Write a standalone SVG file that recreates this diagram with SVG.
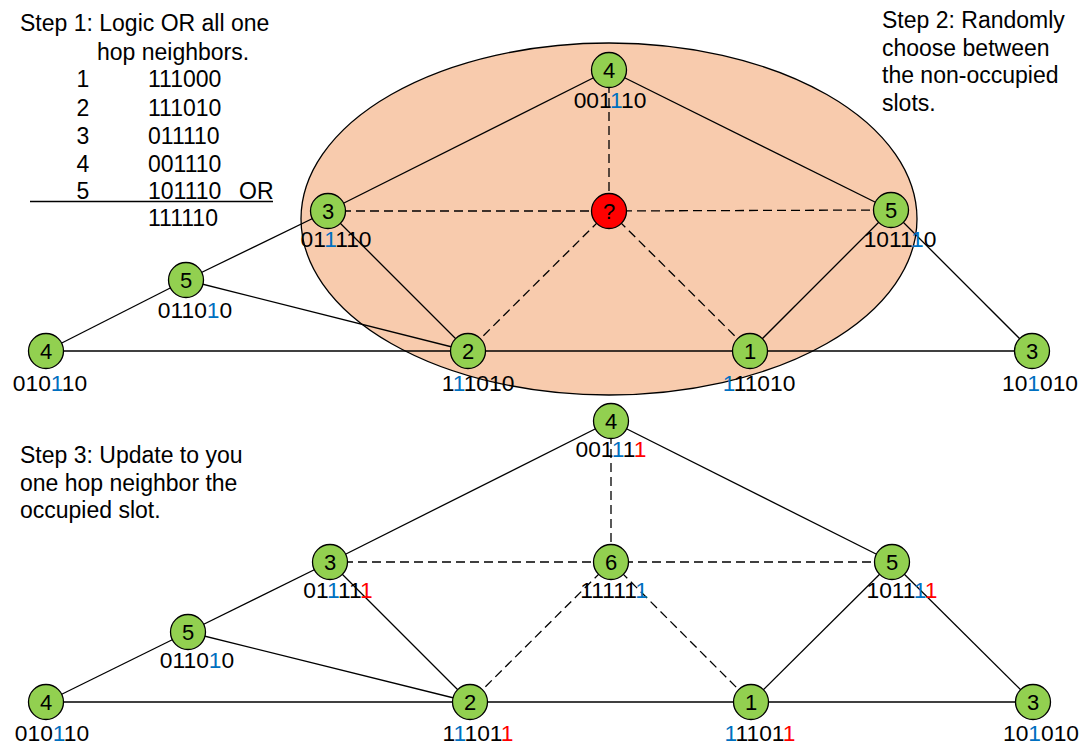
<svg xmlns="http://www.w3.org/2000/svg" width="1090" height="747" viewBox="0 0 1090 747">
<style>
.t{font-family:"Liberation Sans",Arial,sans-serif;font-size:23px;fill:#000}
.lbl{font-family:"Liberation Sans",Arial,sans-serif;font-size:22.8px;fill:#000;text-anchor:middle}
.num{font-family:"Liberation Sans",Arial,sans-serif;font-size:22px;fill:#000;text-anchor:middle}
.n{fill:#92D050;stroke:#000;stroke-width:1.3}
.r{fill:#FF0000;stroke:#000;stroke-width:1.3}
.e{stroke:#000;stroke-width:1.3;fill:none}
.d{stroke:#000;stroke-width:1.3;fill:none;stroke-dasharray:9,5}
.b{fill:#0070C0}
.x{fill:#FF0000}
</style>
<rect width="1090" height="747" fill="#fff"/>
<g id="texts">
<text class="t" x="20" y="31">Step 1: Logic OR all one</text>
<text class="t" x="97" y="60">hop neighbors.</text>
<text class="t" x="83" y="87" text-anchor="middle">1</text><text class="t" x="148" y="87">111000</text>
<text class="t" x="83" y="116" text-anchor="middle">2</text><text class="t" x="148" y="116">111010</text>
<text class="t" x="83" y="144" text-anchor="middle">3</text><text class="t" x="148" y="144">011110</text>
<text class="t" x="83" y="172" text-anchor="middle">4</text><text class="t" x="148" y="172">001110</text>
<text class="t" x="83" y="199" text-anchor="middle">5</text><text class="t" x="148" y="199">101110</text><text class="t" x="239" y="199">OR</text>
<line x1="30" y1="201.5" x2="273" y2="201.5" stroke="#000" stroke-width="1.3"/>
<text class="t" x="148" y="226">111110</text>
<text class="t" x="882" y="28">Step 2: Randomly</text>
<text class="t" x="882" y="56">choose between</text>
<text class="t" x="882" y="83">the non-occupied</text>
<text class="t" x="882" y="111">slots.</text>
<text class="t" x="20" y="463">Step 3: Update to you</text>
<text class="t" x="20" y="491">one hop neighbor the</text>
<text class="t" x="20" y="518">occupied slot.</text>
</g>
<g id="region">
<ellipse cx="609" cy="219" rx="308" ry="176" fill="#F8CBAD" stroke="#000" stroke-width="1.3"/>
</g>
<g id="connectors">
<line class="e" x1="609" y1="70" x2="328" y2="211"/>
<line class="e" x1="609" y1="70" x2="891" y2="210"/>
<line class="e" x1="328" y1="211" x2="468" y2="351"/>
<line class="e" x1="891" y1="210" x2="750" y2="351"/>
<line class="e" x1="891" y1="210" x2="1032" y2="351"/>
<line class="e" x1="328" y1="211" x2="186" y2="280"/>
<line class="e" x1="186" y1="280" x2="46" y2="351"/>
<line class="e" x1="186" y1="280" x2="468" y2="351"/>
<line class="e" x1="46" y1="351" x2="1032" y2="351"/>
<line class="d" x1="609" y1="70" x2="609" y2="211"/>
<line class="d" x1="328" y1="211" x2="609" y2="211"/>
<line class="d" x1="609" y1="211" x2="891" y2="210"/>
<line class="d" x1="609" y1="211" x2="468" y2="351"/>
<line class="d" x1="609" y1="211" x2="750" y2="351"/>
<line class="e" x1="611" y1="421" x2="330" y2="562"/>
<line class="e" x1="611" y1="421" x2="892" y2="562"/>
<line class="e" x1="330" y1="562" x2="188" y2="632"/>
<line class="e" x1="330" y1="562" x2="470" y2="702"/>
<line class="e" x1="188" y1="632" x2="46" y2="702"/>
<line class="e" x1="188" y1="632" x2="470" y2="702"/>
<line class="e" x1="892" y1="562" x2="751" y2="702"/>
<line class="e" x1="892" y1="562" x2="1033" y2="702"/>
<line class="e" x1="46" y1="702" x2="1033" y2="702"/>
<line class="d" x1="611" y1="421" x2="611" y2="562"/>
<line class="d" x1="330" y1="562" x2="892" y2="562"/>
<line class="d" x1="611" y1="562" x2="470" y2="702"/>
<line class="d" x1="611" y1="562" x2="751" y2="702"/>
</g>
<g id="t4"><circle class="n" cx="609" cy="70" r="17.5"/><text class="num" x="609" y="78">4</text><text class="lbl" x="610" y="108">001<tspan class="b">1</tspan>10</text></g>
<g id="tq"><circle class="r" cx="609" cy="211" r="17.5"/><text class="num" x="609" y="219">?</text></g>
<g id="t3"><circle class="n" cx="328" cy="211" r="17.5"/><text class="num" x="328" y="219">3</text><text class="lbl" x="336" y="247">01<tspan class="b">1</tspan>110</text></g>
<g id="t5"><circle class="n" cx="891" cy="210" r="17.5"/><text class="num" x="891" y="218">5</text><text class="lbl" x="900" y="247">1011<tspan class="b">1</tspan>0</text></g>
<g id="t5l"><circle class="n" cx="186" cy="280" r="17.5"/><text class="num" x="186" y="288">5</text><text class="lbl" x="195" y="318">0110<tspan class="b">1</tspan>0</text></g>
<g id="t4l"><circle class="n" cx="46" cy="351" r="17.5"/><text class="num" x="46" y="359">4</text><text class="lbl" x="50" y="391">010<tspan class="b">1</tspan>10</text></g>
<g id="t2"><circle class="n" cx="468" cy="351" r="17.5"/><text class="num" x="468" y="359">2</text><text class="lbl" x="478" y="391">1<tspan class="b">1</tspan>1010</text></g>
<g id="t1"><circle class="n" cx="750" cy="351" r="17.5"/><text class="num" x="750" y="359">1</text><text class="lbl" x="759" y="391"><tspan class="b">1</tspan>11010</text></g>
<g id="t3r"><circle class="n" cx="1032" cy="351" r="17.5"/><text class="num" x="1032" y="359">3</text><text class="lbl" x="1040" y="391">10<tspan class="b">1</tspan>010</text></g>
<g id="b4"><circle class="n" cx="611" cy="421" r="17.5"/><text class="num" x="611" y="429">4</text><text class="lbl" x="611" y="457">001<tspan class="b">1</tspan>1<tspan class="x">1</tspan></text></g>
<g id="b6"><circle class="n" cx="611" cy="562" r="17.5"/><text class="num" x="611" y="570">6</text><text class="lbl" x="614" y="598">11111<tspan class="b">1</tspan></text></g>
<g id="b3"><circle class="n" cx="330" cy="562" r="17.5"/><text class="num" x="330" y="570">3</text><text class="lbl" x="338" y="598">01<tspan class="b">1</tspan>11<tspan class="x">1</tspan></text></g>
<g id="b5"><circle class="n" cx="892" cy="562" r="17.5"/><text class="num" x="892" y="570">5</text><text class="lbl" x="902" y="598">1011<tspan class="b">1</tspan><tspan class="x">1</tspan></text></g>
<g id="b5l"><circle class="n" cx="188" cy="632" r="17.5"/><text class="num" x="188" y="640">5</text><text class="lbl" x="197" y="668">0110<tspan class="b">1</tspan>0</text></g>
<g id="b4l"><circle class="n" cx="46" cy="702" r="17.5"/><text class="num" x="46" y="710">4</text><text class="lbl" x="52" y="741">010<tspan class="b">1</tspan>10</text></g>
<g id="b2"><circle class="n" cx="470" cy="702" r="17.5"/><text class="num" x="470" y="710">2</text><text class="lbl" x="478" y="741">1<tspan class="b">1</tspan>101<tspan class="x">1</tspan></text></g>
<g id="b1"><circle class="n" cx="751" cy="702" r="17.5"/><text class="num" x="751" y="710">1</text><text class="lbl" x="760" y="741"><tspan class="b">1</tspan>1101<tspan class="x">1</tspan></text></g>
<g id="b3r"><circle class="n" cx="1033" cy="702" r="17.5"/><text class="num" x="1033" y="710">3</text><text class="lbl" x="1041" y="741">10<tspan class="b">1</tspan>010</text></g>
</svg>
